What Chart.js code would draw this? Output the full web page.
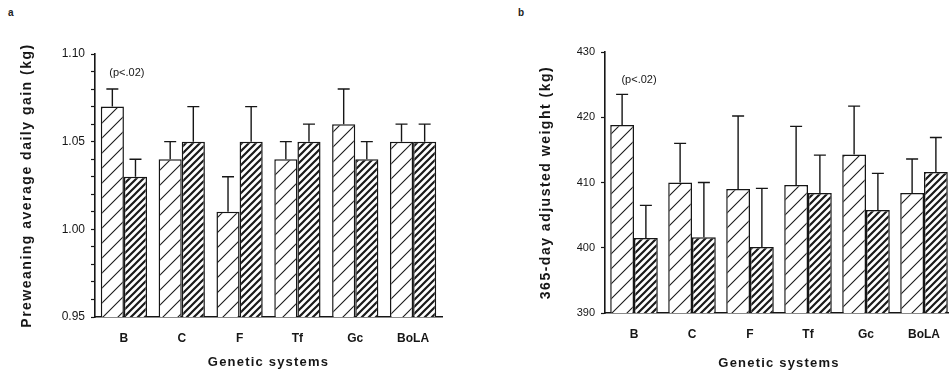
<!DOCTYPE html>
<html>
<head>
<meta charset="utf-8">
<script src="https://cdn.jsdelivr.net/npm/chart.js@4"></script>
<style>
  html, body { margin: 0; padding: 0; background: #fff; overflow: hidden; }
  body { width: 949px; height: 372px; position: relative; font-family: "Liberation Sans", Arial, sans-serif; }
  .panel-tag { position: absolute; font-size: 10px; font-weight: bold; color: #222; }
  #wrapA { position: absolute; left: 0; top: 0; width: 470px; height: 372px; }
  #wrapB { position: absolute; left: 475px; top: 0; width: 485px; height: 372px; }
</style>
</head>
<body>
<div class="panel-tag" style="left:8px; top:7px;">a</div>
<div class="panel-tag" style="left:518px; top:7px;">b</div>
<div id="wrapA"><canvas id="chartA" width="470" height="372"></canvas></div>
<div id="wrapB"><canvas id="chartB" width="485" height="372"></canvas></div>

<script>
// genetic systems on the x axis
const categories = ['B', 'C', 'F', 'Tf', 'Gc', 'BoLA'];

// a - preweaning average daily gain (kg), two groups + standard errors
const gainLight = [1.07, 1.04, 1.01, 1.04, 1.06, 1.05];
const gainLightSE = [0.01, 0.01, 0.02, 0.01, 0.02, 0.01];
const gainDark = [1.03, 1.05, 1.05, 1.05, 1.04, 1.05];
const gainDarkSE = [0.01, 0.02, 0.02, 0.01, 0.01, 0.01];

// b - 365-day adjusted weight (kg)
const weightLight = [418.8, 410, 409, 409.6, 414.3, 408.4];
const weightLightSE = [4.7, 6, 11.2, 9, 7.4, 5.2];
const weightDark = [401.5, 401.6, 400.1, 408.4, 405.8, 411.6];
const weightDarkSE = [5, 8.4, 9, 5.8, 5.6, 5.3];

const FONT = '"Liberation Sans", Arial, sans-serif';
const INK = '#161616';

// diagonal hatch fill for the bars
function hatch(size, lw) {
  const c = document.createElement('canvas');
  c.width = size; c.height = size;
  const x = c.getContext('2d');
  x.fillStyle = '#fff';
  x.fillRect(0, 0, size, size);
  x.strokeStyle = '#1a1a1a';
  x.lineWidth = lw;
  x.beginPath();
  x.moveTo(-1, size + 1); x.lineTo(size + 1, -1);
  x.moveTo(-1, 1); x.lineTo(1, -1);
  x.moveTo(size - 1, size + 1); x.lineTo(size + 1, size - 1);
  x.stroke();
  return x.createPattern(c, 'repeat');
}

// axis titles in the scan are spaced out a bit
function spacedTitle(scale, px) {
  if (scale._spaced) return;
  const orig = scale.drawTitle;
  scale.drawTitle = function () {
    const prev = this.ctx.letterSpacing;
    this.ctx.letterSpacing = px + 'px';
    orig.call(this);
    this.ctx.letterSpacing = prev || '0px';
  };
  scale._spaced = true;
}

// error bars (upper half only) + the significance note
const errorBars = {
  id: 'errorBars',
  afterDatasetsDraw(chart, args, opts) {
    const ctx = chart.ctx;
    const yScale = chart.scales.y;
    const xScale = chart.scales.x;
    ctx.save();
    ctx.strokeStyle = INK;
    ctx.lineWidth = 1.4;
    chart.data.datasets.forEach((ds, i) => {
      const meta = chart.getDatasetMeta(i);
      meta.data.forEach((bar, j) => {
        const top = yScale.getPixelForValue(ds.data[j] + ds.errors[j]);
        ctx.beginPath();
        ctx.moveTo(bar.x, bar.y);
        ctx.lineTo(bar.x, top);
        ctx.moveTo(bar.x - 6, top);
        ctx.lineTo(bar.x + 6, top);
        ctx.stroke();
      });
    });
    if (opts.note) {
      ctx.fillStyle = INK;
      ctx.font = '11px ' + FONT;
      ctx.textAlign = 'center';
      ctx.textBaseline = 'middle';
      const nx = xScale.getPixelForValue(categories.indexOf(opts.note.category)) + (opts.note.dx || 0);
      ctx.fillText(opts.note.text, nx, yScale.getPixelForValue(opts.note.value));
    }
    ctx.restore();
  }
};

function makeChart(id, cfg) {
  const canvas = document.getElementById(id);
  const ctx = canvas.getContext('2d');
  return new Chart(ctx, {
    type: 'bar',
    data: {
      labels: categories,
      datasets: [
        {
          data: cfg.light, errors: cfg.lightSE,
          backgroundColor: hatch(15, 1.1),
          borderColor: INK, borderWidth: 1.5,
          categoryPercentage: cfg.catPct, barPercentage: 1.0
        },
        {
          data: cfg.dark, errors: cfg.darkSE,
          backgroundColor: hatch(7, 2.2),
          borderColor: INK, borderWidth: 1.5,
          categoryPercentage: cfg.catPct, barPercentage: 1.0
        }
      ]
    },
    options: {
      responsive: false,
      animation: false,
      layout: { padding: cfg.padding },
      plugins: {
        legend: { display: false },
        tooltip: { enabled: false },
        errorBars: { note: cfg.note }
      },
      scales: {
        x: {
          grid: { display: false, drawTicks: false },
          border: { display: true, color: INK, width: 1.6 },
          ticks: { color: INK, padding: 14, font: { family: FONT, size: 12, weight: 'bold' } },
          title: {
            display: true, text: 'Genetic systems', color: INK,
            font: { family: FONT, size: 13, weight: 'bold' },
            padding: { top: 0, bottom: cfg.xTitlePad }
          },
          afterFit: (s) => { s.height = cfg.xHeight; spacedTitle(s, 1.2); }
        },
        y: {
          min: cfg.yMin, max: cfg.yMax,
          grid: {
            drawOnChartArea: false, drawTicks: true, tickLength: 4,
            tickColor: INK, tickWidth: 1.2
          },
          border: { display: true, color: INK, width: 1.6 },
          ticks: {
            stepSize: cfg.step, autoSkip: false, padding: 6, color: INK,
            font: { family: FONT, size: cfg.tickSize },
            callback: cfg.tickLabel
          },
          title: {
            display: true, text: cfg.yTitle, color: INK,
            font: { family: FONT, size: 14, weight: 'bold' },
            padding: { top: cfg.yTitlePad, bottom: 0 }
          },
          afterFit: (s) => { s.width = cfg.yWidth; spacedTitle(s, 1.5); }
        }
      }
    },
    plugins: [errorBars]
  });
}

makeChart('chartA', {
  light: gainLight, lightSE: gainLightSE,
  dark: gainDark, darkSE: gainDarkSE,
  yMin: 0.95, yMax: 1.10, step: 0.01, tickSize: 12,
  tickLabel: (v) => Math.round(v * 100) % 5 === 0 ? v.toFixed(2) : '',
  yTitle: 'Preweaning average daily gain (kg)',
  yWidth: 95, yTitlePad: 19, xHeight: 55, xTitlePad: 2,
  catPct: 0.8,
  padding: { left: 0, top: 54, right: 28, bottom: 0 },
  note: { text: '(p<.02)', category: 'B', value: 1.089, dx: 3 }
});

makeChart('chartB', {
  light: weightLight, lightSE: weightLightSE,
  dark: weightDark, darkSE: weightDarkSE,
  yMin: 390, yMax: 430, step: 10, tickSize: 11,
  tickLabel: (v) => String(v),
  yTitle: '365-day adjusted weight (kg)',
  yWidth: 130, yTitlePad: 63, xHeight: 59, xTitlePad: 1,
  catPct: 0.82,
  padding: { left: 0, top: 52, right: 7, bottom: 0 },
  note: { text: '(p<.02)', category: 'B', value: 425.7, dx: 5 }
});
</script>
</body>
</html>
